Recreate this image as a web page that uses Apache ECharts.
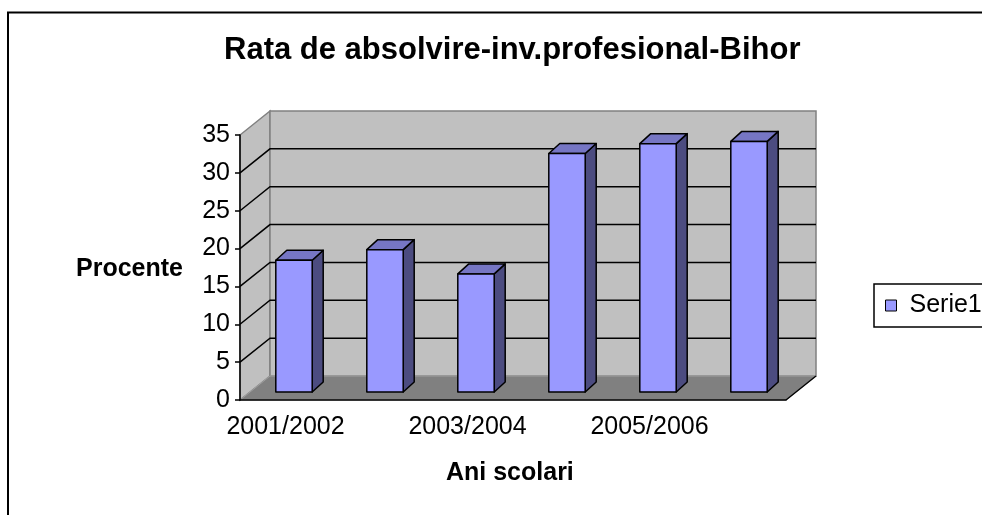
<!DOCTYPE html>
<html>
<head>
<meta charset="utf-8">
<script src="https://cdn.jsdelivr.net/npm/echarts@6/dist/echarts.min.js"></script>
<style>
html, body { margin: 0; padding: 0; background: #fff; }
#chart { width: 982px; height: 515px; }
</style>
</head>
<body>
<div id="chart"></div>
<script>
const categories = ['2001/2002', '2002/2003', '2003/2004', '2004/2005', '2005/2006', '2006/2007']
const rates = [17.4, 18.8, 15.6, 31.5, 32.8, 33.1]
const yMin = 0
const yMax = 35
const yStep = 5
const gridValues = [5, 10, 15, 20, 25, 30]

const FONT = '"Liberation Sans", Arial, sans-serif'
// 3D look (pixels)
const DEPTH_X = 30
const DEPTH_Y = -24
const BAR_SHIFT_X = 8.5
const BAR_SHIFT_Y = -8
const BAR_DX = 11
const BAR_DY = -10

const chart = echarts.init(document.getElementById('chart'))

const roomEdges = (api) => {
  const bw = api.size([1, 0])[0]
  return {
    bw: bw,
    x0: api.coord([0, yMin])[0] - bw / 2,
    x1: api.coord([categories.length - 1, yMin])[0] + bw / 2,
    y0: api.coord([0, yMin])[1],
    y1: api.coord([0, yMax])[1]
  }
}

/**
 * walls and floor
 */
const renderRoom = (params, api) => {
  const r = roomEdges(api)
  return {
    type: 'group',
    children: [
      {
        type: 'polygon',
        shape: { points: [[r.x0, r.y0], [r.x0, r.y1], [r.x0 + DEPTH_X, r.y1 + DEPTH_Y], [r.x0 + DEPTH_X, r.y0 + DEPTH_Y]] },
        style: { fill: '#c0c0c0', stroke: '#808080', lineWidth: 1.5 }
      },
      {
        type: 'rect',
        shape: { x: r.x0 + DEPTH_X, y: r.y1 + DEPTH_Y, width: r.x1 - r.x0, height: r.y0 - r.y1 },
        style: { fill: '#c0c0c0', stroke: '#808080', lineWidth: 1.5 }
      },
      {
        type: 'polygon',
        shape: { points: [[r.x0, r.y0], [r.x1, r.y0], [r.x1 + DEPTH_X, r.y0 + DEPTH_Y], [r.x0 + DEPTH_X, r.y0 + DEPTH_Y]] },
        style: { fill: '#808080', stroke: '#a0a0a0', lineWidth: 1 }
      },
      {
        type: 'line',
        shape: { x1: r.x1, y1: r.y0, x2: r.x1 + DEPTH_X, y2: r.y0 + DEPTH_Y },
        style: { stroke: '#000', lineWidth: 1.5 }
      }
    ]
  }
}

/**
 * gridlines on the walls
 */
const renderGrid = (params, api) => {
  const r = roomEdges(api)
  const y = api.coord([0, api.value(1)])[1]
  return {
    type: 'polyline',
    shape: { points: [[r.x0, y], [r.x0 + DEPTH_X, y + DEPTH_Y], [r.x1 + DEPTH_X, y + DEPTH_Y]] },
    style: { fill: null, stroke: '#000', lineWidth: 1.5 }
  }
}

/**
 * 3D bars
 */
const renderBar = (params, api) => {
  const bw = api.size([1, 0])[0]
  const barW = bw * 0.4
  const base = api.coord([api.value(0), yMin])
  const top = api.coord([api.value(0), api.value(1)])
  const cx = base[0] + BAR_SHIFT_X
  const xl = cx - barW / 2
  const xr = cx + barW / 2
  const yb = base[1] + BAR_SHIFT_Y
  const yt = top[1] + BAR_SHIFT_Y
  const line = { stroke: '#000', lineWidth: 1.5, lineJoin: 'round' }
  return {
    type: 'group',
    children: [
      {
        type: 'polygon',
        shape: { points: [[xr, yb], [xr, yt], [xr + BAR_DX, yt + BAR_DY], [xr + BAR_DX, yb + BAR_DY]] },
        style: Object.assign({ fill: '#4c4c80' }, line)
      },
      {
        type: 'polygon',
        shape: { points: [[xl, yt], [xr, yt], [xr + BAR_DX, yt + BAR_DY], [xl + BAR_DX, yt + BAR_DY]] },
        style: Object.assign({ fill: '#7676c4' }, line)
      },
      {
        type: 'rect',
        shape: { x: xl, y: yt, width: barW, height: yb - yt },
        style: Object.assign({ fill: '#9999ff' }, line)
      }
    ]
  }
}

chart.setOption({
  animation: false,
  title: [
    {
      text: 'Rata de absolvire-inv.profesional-Bihor',
      left: 224, top: 35, padding: 0,
      textStyle: { fontFamily: FONT, fontSize: 31, fontWeight: 'bold', color: '#000' }
    },
    {
      text: 'Procente',
      left: 76, top: 257, padding: 0,
      textStyle: { fontFamily: FONT, fontSize: 25, fontWeight: 'bold', color: '#000' }
    },
    {
      text: 'Ani scolari',
      left: 446, top: 461, padding: 0,
      textStyle: { fontFamily: FONT, fontSize: 25, fontWeight: 'bold', color: '#000' }
    }
  ],
  legend: {
    data: ['Serie1'],
    left: 874,
    top: 284,
    padding: [9, 20, 9, 11],
    borderColor: '#000',
    borderWidth: 1.5,
    icon: 'rect',
    itemWidth: 11,
    itemHeight: 11,
    itemStyle: { color: '#9999ff', borderColor: '#000', borderWidth: 1 },
    textStyle: { fontFamily: FONT, fontSize: 25, color: '#000', padding: [0, 0, 0, 8] }
  },
  graphic: [
    {
      type: 'rect',
      z: -1,
      shape: { x: 8, y: 12.5, width: 1000, height: 600 },
      style: { fill: null, stroke: '#000', lineWidth: 2 }
    }
  ],
  grid: { left: 240, right: 196, top: 135, bottom: 115 },
  xAxis: {
    type: 'category',
    data: categories,
    z: 10,
    axisLine: { lineStyle: { color: '#000', width: 1.5 } },
    axisTick: { interval: 0, length: 5, lineStyle: { color: '#000', width: 1.5 } },
    axisLabel: { interval: 1, margin: 15, fontFamily: FONT, fontSize: 25, color: '#000' },
    splitLine: { show: false }
  },
  yAxis: {
    type: 'value',
    min: yMin,
    max: yMax,
    interval: yStep,
    z: 10,
    axisLine: { show: true, lineStyle: { color: '#000', width: 1.5 } },
    axisTick: { show: true, length: 5, lineStyle: { color: '#000', width: 1.5 } },
    axisLabel: { margin: 10, fontFamily: FONT, fontSize: 25, color: '#000' },
    splitLine: { show: false }
  },
  series: [
    {
      name: 'room',
      type: 'custom',
      z: 1,
      silent: true,
      renderItem: renderRoom,
      data: [[0, yMin]]
    },
    {
      name: 'grid',
      type: 'custom',
      z: 2,
      silent: true,
      renderItem: renderGrid,
      data: gridValues.map((v) => [0, v])
    },
    {
      name: 'Serie1',
      type: 'custom',
      z: 3,
      color: '#9999ff',
      renderItem: renderBar,
      data: rates.map((v, i) => [i, v])
    }
  ]
})
</script>
</body>
</html>
